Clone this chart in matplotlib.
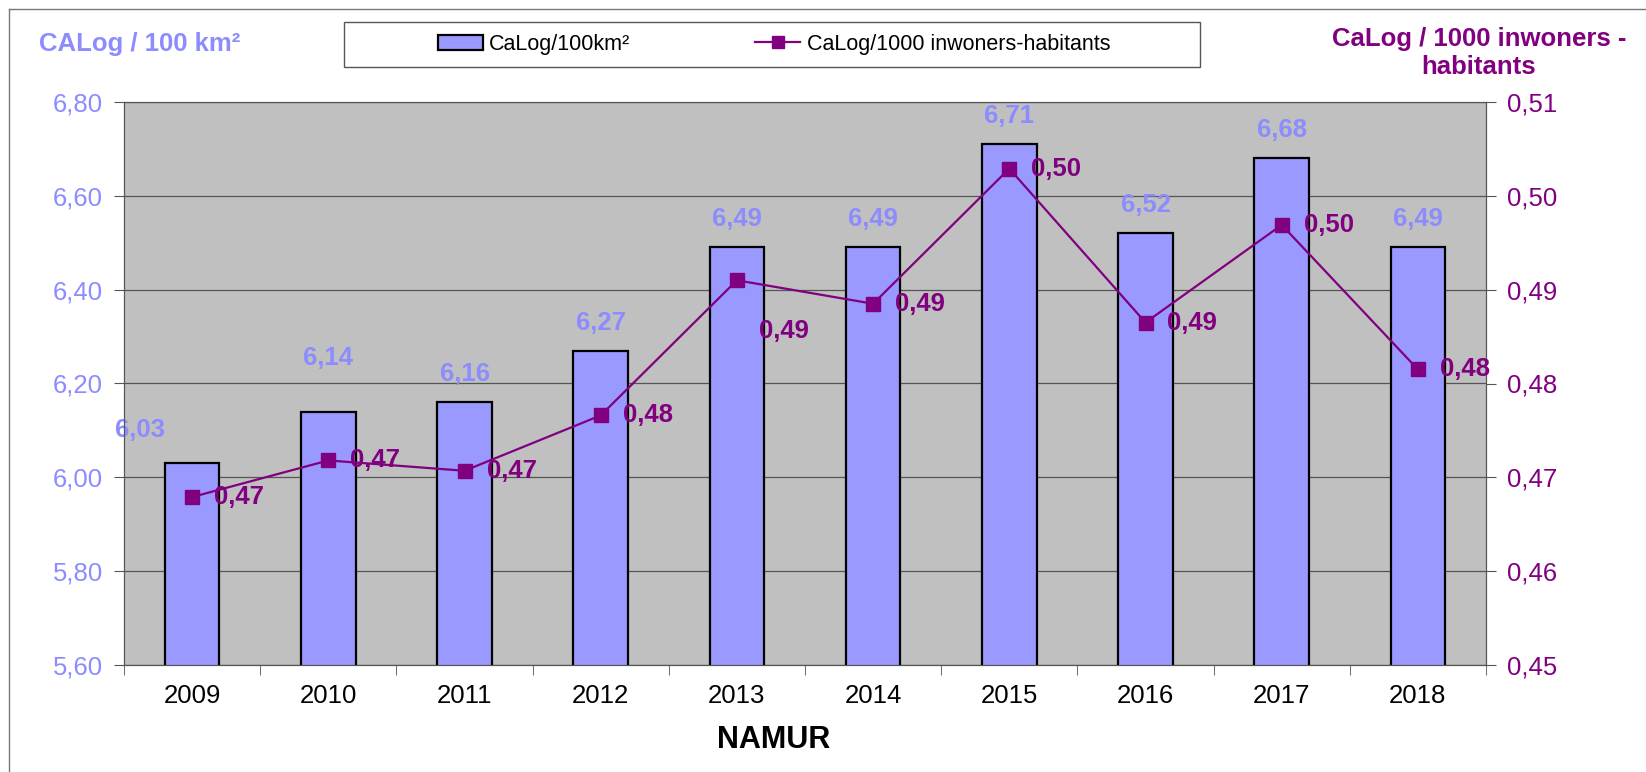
import numpy as np
import matplotlib
matplotlib.use("Agg")
import matplotlib.pyplot as plt
from matplotlib.lines import Line2D
from matplotlib.patches import Rectangle, Patch

plt.rcParams['font.family'] = ['Liberation Sans', 'DejaVu Sans']

years = ['2009', '2010', '2011', '2012', '2013', '2014', '2015', '2016', '2017', '2018']
per_km2 = [6.03, 6.14, 6.16, 6.27, 6.49, 6.49, 6.71, 6.52, 6.68, 6.49]
per_1000 = [0.4679, 0.4718, 0.4707, 0.4766, 0.4910, 0.4885, 0.5029, 0.4865, 0.4969, 0.4815]
left_ticks = [5.6, 5.8, 6.0, 6.2, 6.4, 6.6, 6.8]
right_ticks = [0.45, 0.46, 0.47, 0.48, 0.49, 0.50, 0.51]

bar_col = '#9999FF'
txt_blue = '#8C8CFF'
purple = '#800080'

def comma(v):
    return f"{v:.2f}".replace('.', ',')

fig = plt.figure(figsize=(16.46, 7.72), dpi=100)
ax = fig.add_axes([124/1646, 1-665/772, (1486-124)/1646, (665-102)/772])
ax.set_facecolor('#C0C0C0')
x = np.arange(len(years))

ax.bar(x, per_km2, width=0.4, color=bar_col, edgecolor='black', linewidth=1.6, zorder=2)
ax.set_xlim(-0.5, 9.5)
ax.set_ylim(5.6, 6.8)
ax.set_yticks(left_ticks)
ax.set_yticklabels([comma(t) for t in left_ticks], color=txt_blue, fontsize=18.5)
ax.yaxis.grid(True, color='#555555', linewidth=0.9)
ax.set_axisbelow(True)
ax.set_xticks(x)
ax.set_xticklabels(years, fontsize=18.5)
ax.set_xticks(np.arange(-0.5, 10, 1), minor=True)
ax.tick_params(axis='x', which='major', length=0, pad=14)
ax.tick_params(axis='x', which='minor', length=7, color='#555555')
ax.tick_params(axis='y', length=7, color='#555555', pad=8)
for s in ax.spines.values():
    s.set_color('#555555')

# bar value labels (offsets in pixels, a few moved like the original)
bar_off = {0: (-52, 33), 1: (0, 54)}
for i, v in enumerate(per_km2):
    dx, dy = bar_off.get(i, (0, 28))
    ax.annotate(comma(v), (x[i], v), xytext=(dx, dy), textcoords='offset pixels',
                ha='center', va='center', color=txt_blue, fontsize=18.5, fontweight='bold', zorder=5)

ax2 = ax.twinx()
ax2.plot(x, per_1000, color=purple, linewidth=1.6, marker='s', markersize=10, zorder=4)
ax2.set_ylim(0.45, 0.51)
ax2.set_yticks(right_ticks)
ax2.set_yticklabels([comma(t) for t in right_ticks], color=purple, fontsize=18.5)
ax2.tick_params(axis='y', length=7, color='#555555', pad=8)
for s in ax2.spines.values():
    s.set_color('#555555')

line_off = {4: (22, -51)}
for i, v in enumerate(per_1000):
    dx, dy = line_off.get(i, (22, 0))
    ax2.annotate(comma(v), (x[i], v), xytext=(dx, dy), textcoords='offset pixels',
                 ha='left', va='center', color=purple, fontsize=18.5, fontweight='bold', zorder=5)

# axis titles
fig.text(140/1646, 1-44/772, 'CALog / 100 km²', color=txt_blue, fontsize=18.5,
         fontweight='bold', ha='center', va='center')
fig.text(1479/1646, 1-53/772, 'CaLog / 1000 inwoners -\nhabitants', color=purple, fontsize=18.5,
         fontweight='bold', ha='center', va='center', linespacing=1.2)
fig.text(774/1646, 1-740/772, 'NAMUR', fontsize=22, fontweight='bold', ha='center', va='center')

# legend box
fig.patches.append(Rectangle((344/1646, 1-67/772), (1200-344)/1646, 45/772,
                             transform=fig.transFigure, facecolor='white',
                             edgecolor='#555555', linewidth=1))
handles = [Patch(facecolor=bar_col, edgecolor='black', linewidth=1.6),
           Line2D([], [], color=purple, marker='s', markersize=8, linewidth=1.6)]
fig.legend(handles, ['CaLog/100km²', 'CaLog/1000 inwoners-habitants'], ncol=2,
           loc='center', bbox_to_anchor=(774/1646, 1-44.5/772), frameon=False,
           fontsize=15.5, columnspacing=5.8, handlelength=2.1, handletextpad=0.3)

# outer chart border
fig.add_artist(Line2D([9/1646, 9/1646], [0, 1-9/772], transform=fig.transFigure, color='#777777', linewidth=1))
fig.add_artist(Line2D([9/1646, 1], [1-9/772, 1-9/772], transform=fig.transFigure, color='#777777', linewidth=1))

fig.savefig('out.png', dpi=100)
